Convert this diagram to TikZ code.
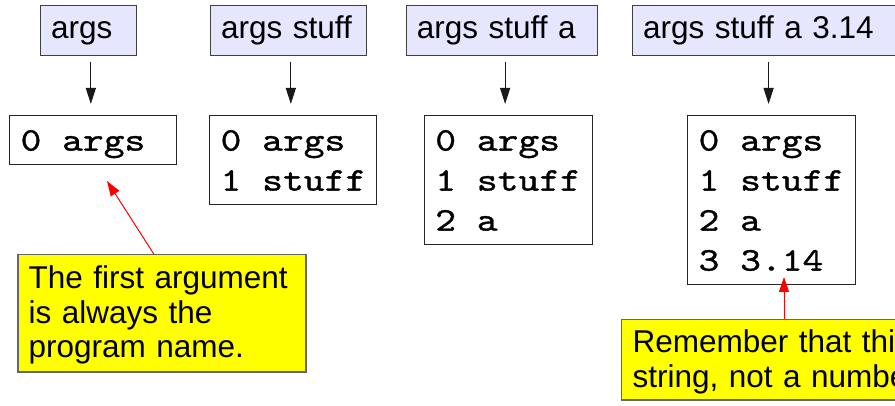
\documentclass[tikz,border=0pt]{standalone}
\usepackage{fontspec}
\newfontfamily\sansf{Liberation Sans}
\newfontfamily\monof{lmmono10-regular.otf}[FakeStretch=1.2, FakeBold=1]
\usetikzlibrary{arrows.meta,calc}
\definecolor{lav}{HTML}{E6E6FF}
\definecolor{notefill}{HTML}{FFFF00}

% index column of an argument list: fixed width, value follows
\newcommand\argidx[1]{\makebox[41.6pt][l]{#1}}

\tikzset{
  cmdbox/.style={draw=black!75, line width=1.2pt, fill=lav, anchor=north west,
    font=\sansf\fontsize{31.5}{34}\selectfont, align=left,
    inner xsep=10.5pt, inner ysep=4pt, text height=29.3pt, text depth=12.7pt},
  listbox/.style={draw=black!85, line width=1.2pt, fill=white, anchor=north west,
    font=\monof\fontsize{33}{40}\selectfont, align=left,
    inner xsep=11pt, inner ysep=4.5pt, text height=30.5pt},
  notebox/.style={draw=black!60, line width=1.2pt, fill=notefill, anchor=north west,
    align=left, inner xsep=10.7pt, inner ysep=5pt},
  flow/.style={-{Triangle[length=16pt,width=10pt]}, line width=1.1pt, black!90,
    shorten <=6pt, shorten >=11pt},
  callout/.style={-{Triangle[length=15pt,width=10pt]}, line width=1pt, red},
}

\begin{document}
\begin{tikzpicture}[x=1pt,y=-1pt]
\useasboundingbox (0,0) rectangle (895,406);
\clip (0,0) rectangle (895,406);
\fill[white] (0,0) rectangle (895,406);

% command lines
\node[cmdbox, text width=75pt]  (t1) at (40,5)    {args};
\node[cmdbox, text width=135pt] (t2) at (210,5)   {args stuff};
\node[cmdbox, text width=170pt] (t3) at (405.7,5) {args stuff a};
\node[cmdbox, text width=245pt] (t4) at (632,5)   {args stuff a 3.14};

% resulting argument lists
\node[listbox, text width=145pt, text depth=9.5pt]   (b1) at (9,115)
  {\argidx{0}args};
\node[listbox, text width=145pt, text depth=49.5pt]  (b2) at (209,115)
  {\argidx{0}args\\\argidx{1}stuff};
\node[listbox, text width=146.3pt, text depth=89.5pt] (b3) at (423.7,115)
  {\argidx{0}args\\\argidx{1}stuff\\\argidx{2}a};
\node[listbox, text width=146pt, text depth=129.5pt] (b4) at (687,115)
  {\argidx{0}args\\\argidx{1}stuff\\\argidx{2}a\\\argidx{3}3.14};

\foreach \i in {1,...,4} {
  \coordinate (m\i) at ($(t\i.south)!.5!(b\i.north)$);
  \draw[flow] (m\i |- t\i.south) -- (m\i |- b\i.north);
}

% notes
\node[notebox, font=\sansf\fontsize{31.5}{34.2}\selectfont, text width=266.6pt,
      text height=29pt, text depth=78pt] (n1) at (17.3,254.3)
  {The first argument\\is always the\\program name.};
\node[notebox, font=\sansf\fontsize{31.5}{35}\selectfont, text width=340pt,
      inner xsep=11.3pt, text height=27.7pt, text depth=42.6pt] (n2) at (620.7,319)
  {Remember that this is a\\string, not a number.};

\coordinate (p1) at (107,181);
\draw[callout] ($(n1.north west)+(136.7,0)$) -- (p1);
\coordinate (p2) at (784,277);
\draw[callout] (p2 |- n2.north) -- (p2);
\end{tikzpicture}
\end{document}
